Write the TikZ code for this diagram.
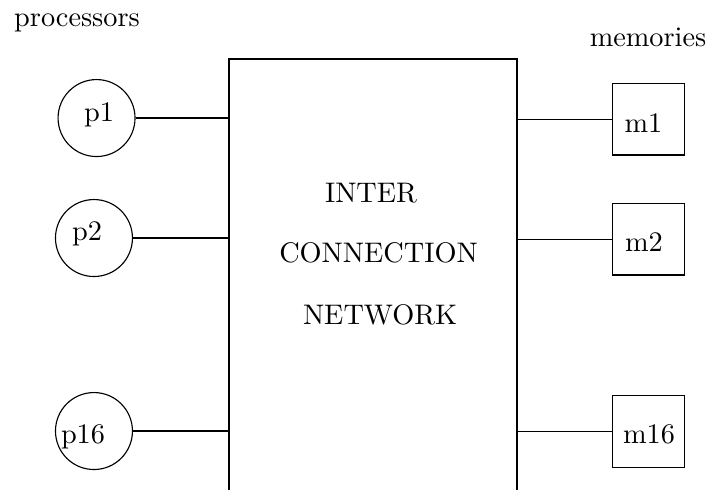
\documentclass[tikz,border=0pt]{standalone}
\begin{document}
\begin{tikzpicture}[proc/.style={circle, draw, minimum size=0.956cm, inner sep=0pt},
  mem/.style={rectangle, draw, minimum size=0.889cm, inner sep=0pt},
  lbl/.style={anchor=base, inner sep=0pt}]
\useasboundingbox (0,0) rectangle (8.83,6.086);
\node[lbl] (proctitle) at (0.956,5.763) {processors};
\node[lbl] (memtitle) at (8.048,5.506) {memories};
% network box, open at the bottom
\coordinate (nw) at (2.844,5.353);
\coordinate (ne) at (6.421,5.353);
\draw (2.844,0) -- (nw) -- (ne) -- (6.421,0);
\node[lbl] (inter) at (4.608,3.568) {INTER};
\node[lbl] (conn) at (4.701,2.823) {CONNECTION};
\node[lbl] (netw) at (4.720,2.058) {NETWORK};
% processors
\node[proc] (p1) at (1.199,4.620) {};
\node[proc] (p2) at (1.167,3.130) {};
\node[proc] (p16) at (1.167,0.733) {};
\node[lbl] (p1t) at (1.230,4.583) {p1};
\node[lbl] (p2t) at (1.081,3.105) {p2};
\node[lbl] (p16t) at (1.031,0.584) {p16};
% memories
\node[mem] (m1) at (8.054,4.605) {};
\node[mem] (m2) at (8.054,3.115) {};
\node[mem] (m16) at (8.054,0.727) {};
\node[lbl] (m1t) at (7.992,4.438) {m1};
\node[lbl] (m2t) at (7.998,2.960) {m2};
\node[lbl] (m16t) at (8.061,0.584) {m16};
\foreach \n in {1,2,16}{
  \draw (p\n) -- (p\n -| nw);
  \draw (m\n -| ne) -- (m\n);
}
\end{tikzpicture}
\end{document}
